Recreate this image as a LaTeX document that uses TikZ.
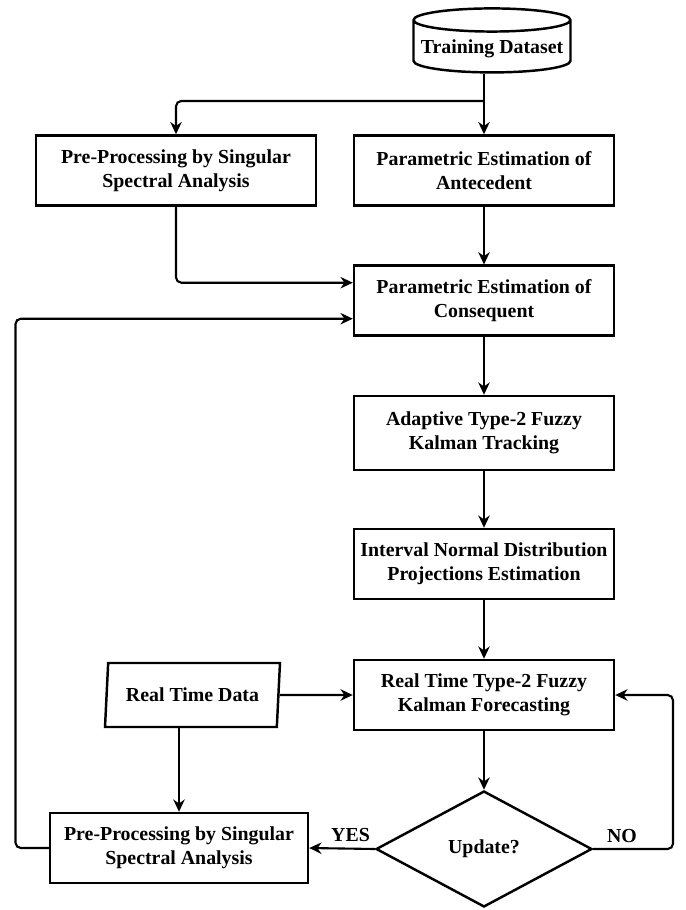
\documentclass[tikz,border=0pt]{standalone}
\usepackage{fontspec}
\setmainfont{Liberation Serif}
\usepackage{tikz}
\usetikzlibrary{arrows.meta,shapes.geometric}

\begin{document}
\begin{tikzpicture}[x=0.02cm,y=-0.02cm,
  procbox/.style={draw,line width=1.4pt,minimum width=5.2cm,minimum height=1.4cm,align=center,font=\fontsize{11.3}{13.6}\selectfont\bfseries},
  flow/.style={line width=1.2pt,-{Stealth[length=7pt,width=6.5pt]},rounded corners=3pt},
  lbl/.style={font=\fontsize{11.3}{13.6}\selectfont\bfseries}]
\useasboundingbox (0,0) rectangle (686,910);
\node[procbox, shape=cylinder, shape border rotate=90, aspect=0.15, minimum width=3.14cm, minimum height=1.28cm] (train) at (492,49) {Training Dataset};
\node[procbox, minimum width=5.6cm] (pp1) at (176,170.5) {Pre-Processing by Singular\\Spectral Analysis};
\node[procbox] (ant) at (484,170.5) {Parametric Estimation of\\Antecedent};
\node[procbox] (cons) at (484,300.7) {Parametric Estimation of\\Consequent};
\node[procbox, minimum height=1.48cm] (adapt) at (484,433) {Adaptive Type-2 Fuzzy\\Kalman Tracking};
\node[procbox] (inp) at (484,564) {Interval Normal Distribution\\Projections Estimation};
\node[procbox] (rtf) at (484,695) {Real Time Type-2 Fuzzy\\Kalman Forecasting};
\node[procbox, shape=trapezium, trapezium left angle=83, trapezium right angle=97, trapezium stretches body, minimum width=3.5cm, minimum height=1.28cm] (rtd) at (192.5,695) {Real Time Data};
\node[procbox, minimum width=5.16cm] (pp2) at (179,848) {Pre-Processing by Singular\\Spectral Analysis};
\node[procbox, shape=diamond, minimum width=4.32cm, minimum height=2.32cm] (upd) at (484,849) {Update?};
\coordinate (split) at (484,101);
\coordinate (fbk) at (15.5,500);
\coordinate (nobend) at (673,780);
\draw[flow] (train.south -| ant.north) -- (ant.north);
\draw[flow] (split) -| (pp1.north);
\draw[flow] (ant) -- (cons);
\draw[flow] (pp1.south) |- ([yshift=0.36cm]cons.west);
\draw[flow] (pp2.west) -| (fbk) |- ([yshift=-0.36cm]cons.west);
\draw[flow] (cons) -- (adapt);
\draw[flow] (adapt) -- (inp);
\draw[flow] (inp) -- (rtf);
\draw[flow] (rtd.east) -- (rtf.west);
\draw[flow] (rtd.south -| pp2.north) -- (pp2.north);
\draw[flow] (rtf) -- (upd);
\draw[flow] (upd.west) -- (pp2.east) node[lbl, pos=0.37, above] {YES};
\draw[flow] (upd.east) -| (nobend) |- (rtf.east);
\path (upd.east) -- (upd.east -| nobend) node[lbl, pos=0.36, above] {NO};
\end{tikzpicture}
\end{document}
